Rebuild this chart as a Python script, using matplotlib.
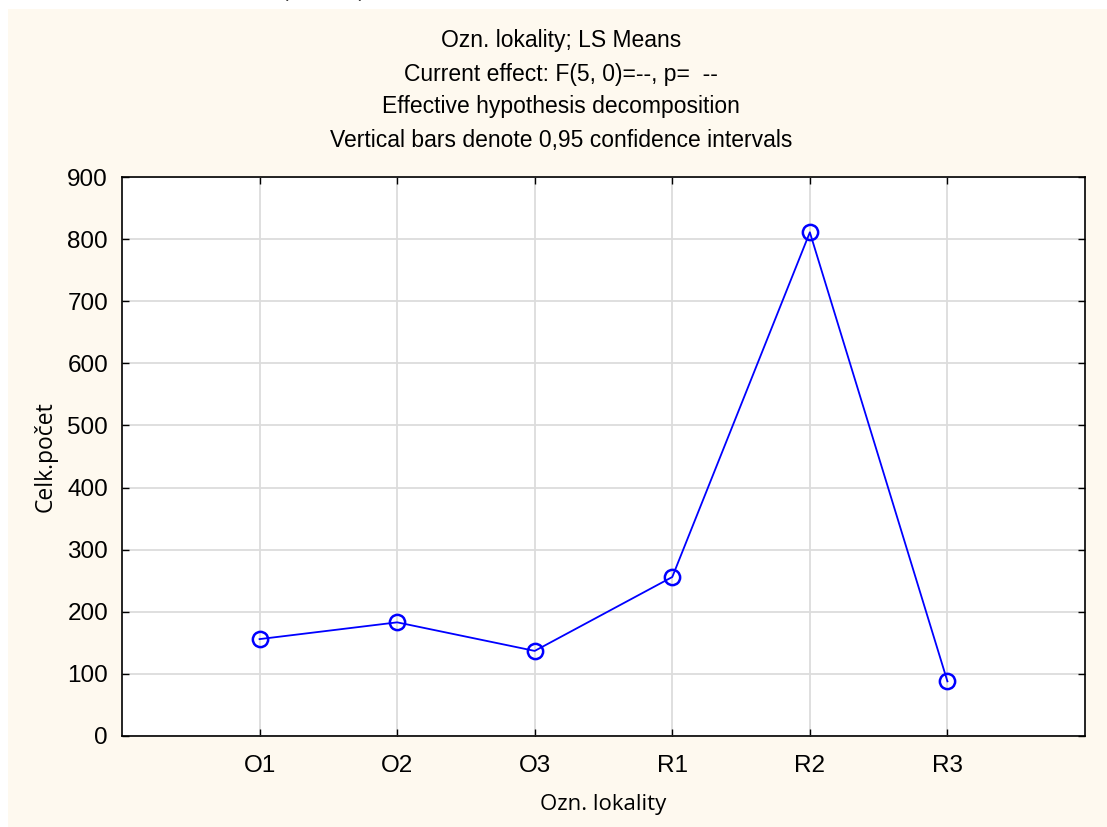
import matplotlib
matplotlib.use("Agg")
import matplotlib.pyplot as plt
from matplotlib.patches import Rectangle

# data
categories = ["O1", "O2", "O3", "R1", "R2", "R3"]
ls_means = [156, 183, 137, 256, 811, 88]
yticks = [0, 100, 200, 300, 400, 500, 600, 700, 800, 900]

title_lines = ["Ozn. lokality; LS Means",
               "Current effect: F(5, 0)=--, p=  --",
               "Effective hypothesis decomposition",
               "Vertical bars denote 0,95 confidence intervals"]

plt.rcParams['font.family'] = ['Liberation Sans', 'DejaVu Sans']

W, H = 1107, 827
fig = plt.figure(figsize=(W / 100, H / 100), dpi=100)
fig.patch.set_facecolor("white")

# cream panel behind the chart
bg = "#fef9ef"
fig.patches.append(Rectangle((8 / W, 0), 1 - 8 / W, 1 - 9 / H, transform=fig.transFigure,
                             facecolor=bg, edgecolor="none", zorder=-10))
# cut-off caption at the very top
fig.text(324 / W, 1 + 7 / H, "(             )", ha="center", va="center", fontsize=14, color="#333333")

ax = fig.add_axes([122 / W, 1 - 736 / H, (1085 - 122) / W, (736 - 177) / H])
ax.set_facecolor("white")

x = list(range(1, len(categories) + 1))
ax.plot(x, ls_means, color="#0000ff", lw=1.3, marker="o", ms=11, mfc="none", mec="#0000ff", mew=1.8,
        zorder=3)

ax.set_xlim(0, 7)
ax.set_ylim(0, 900)
ax.set_xticks(x)
ax.set_xticklabels(categories)
ax.set_yticks(yticks)
ax.grid(True, color="#dcdcdc", lw=1.3)
ax.set_axisbelow(True)
ax.tick_params(direction="in", length=5, width=1, labelsize=17.5, top=True, right=True)
ax.tick_params(axis="x", pad=14)
ax.tick_params(axis="y", pad=10)
for s in ax.spines.values():
    s.set_linewidth(1.2)

ax.set_xlabel("Ozn. lokality", fontsize=16, family=["Open Sans", "DejaVu Sans"], labelpad=12)
ax.set_ylabel("Celk.počet", fontsize=16.5, family=["Open Sans", "DejaVu Sans"], labelpad=7)

for i, line in enumerate(title_lines):
    fig.text(561 / W, 1 - (41 + 33 * i) / H, line, ha="center", va="center", fontsize=16.5)

fig.savefig("out.png", dpi=100, facecolor=fig.get_facecolor())
